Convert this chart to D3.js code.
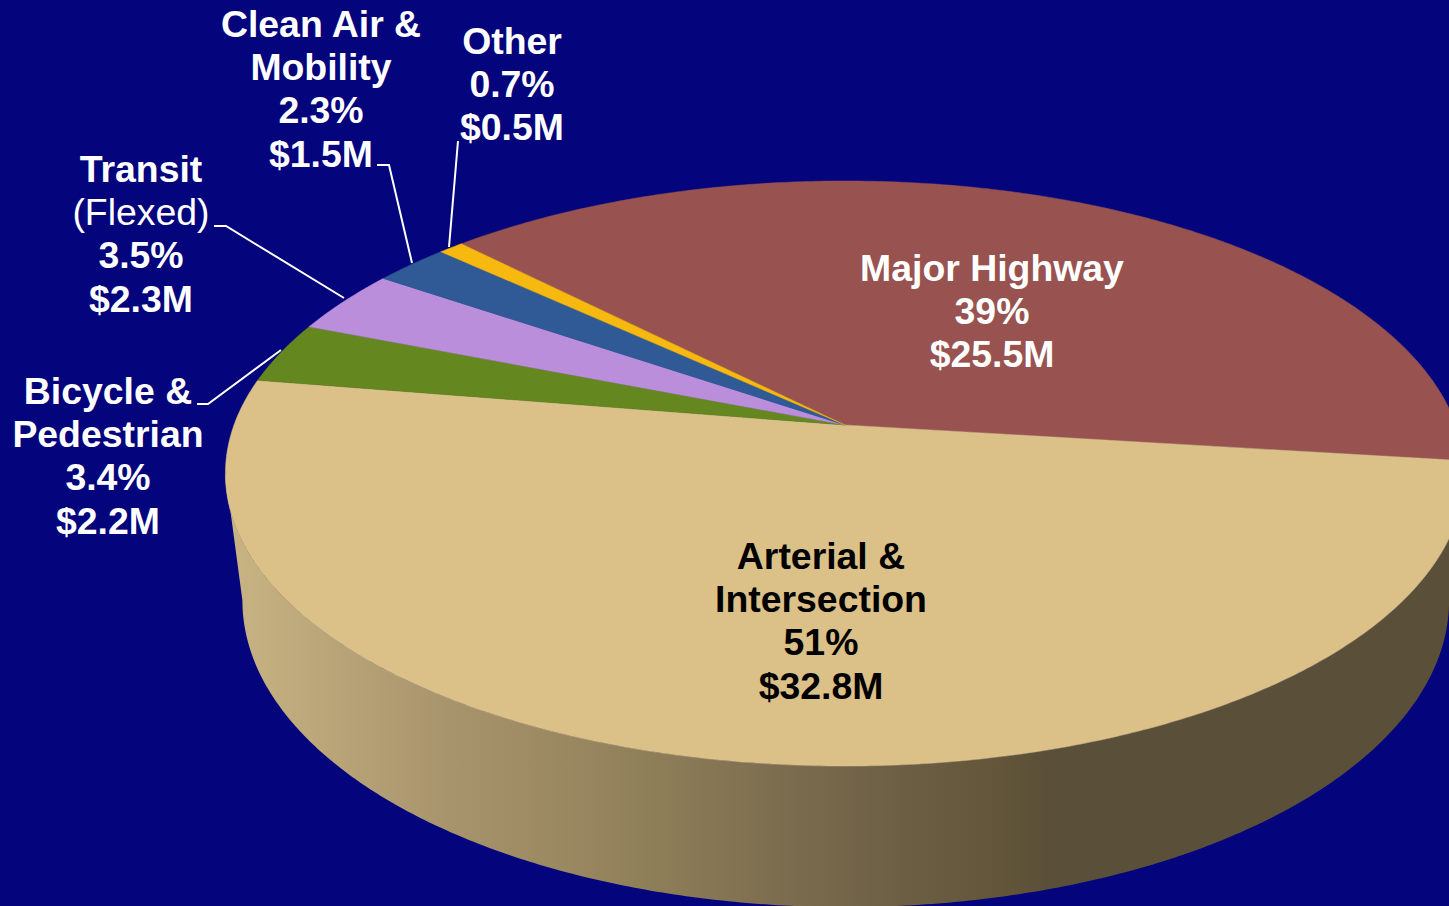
<!DOCTYPE html>
<html>
<head>
<meta charset="utf-8">
<script src="https://cdnjs.cloudflare.com/ajax/libs/d3/7.8.5/d3.min.js"></script>
<style>
html,body{margin:0;padding:0;background:#04047d;overflow:hidden}
svg{display:block}
text{font-family:"Liberation Sans",Arial,sans-serif;font-size:37.4px;font-weight:700;text-anchor:middle}
</style>
</head>
<body>
<svg id="chart" width="1449" height="906"></svg>
<script>
// ---- data ----
const categories = ["Major Highway","Arterial & Intersection","Bicycle & Pedestrian","Transit (Flexed)","Clean Air & Mobility","Other"];
const amounts    = [25.5, 32.8, 2.2, 2.3, 1.5, 0.5];
const colors     = ["#985350","#dbc088","#64871f","#bb8edb","#2f5a96","#f7b90f"];
const nameLines  = [["Major Highway"],["Arterial &","Intersection"],["Bicycle &","Pedestrian"],["Transit","(Flexed)"],["Clean Air &","Mobility"],["Other"]];
const shareText  = ["39%","51%","3.4%","3.5%","2.3%","0.7%"];
const textColors = ["#fff","#000","#fff","#fff","#fff","#fff"];

// ---- layout ----
const W = 1449, H = 906;
const apex = [845, 425], persp = 0.1658, Rx = 611, Ry = 284.5;
const startDeg = -44.6;
const labelAnchors = [[992,281],[821,569],[108,404],[141,182],[321,37],[512,54]];
const labelStep = 43.2;
const leaders = [null,null,
  [[197,404],[208,404],[281,350]],
  [[214,226],[226,226],[344,298]],
  [[377,165],[389,165],[412,263]],
  [[458,141],[449,247]]];

const svg = d3.select("#chart");
const rad = d => d*Math.PI/180;

const grad = svg.append("defs").append("linearGradient")
  .attr("id","side").attr("gradientUnits","userSpaceOnUse")
  .attr("x1",232).attr("x2",1449).attr("y1",0).attr("y2",0);
[[232,"#c8b383"],[450,"#a8946c"],[640,"#908059"],[771,"#7d6e50"],[900,"#6d5f44"],[1000,"#625539"],[1047,"#5a4f38"],[1449,"#5a4f38"]]
  .forEach(([x,c])=>grad.append("stop").attr("offset",(x-232)/(1449-232)).attr("stop-color",c));

svg.append("rect").attr("width",W).attr("height",H).attr("fill","#04047d");

const sx = d3.scaleLinear().domain([-1,1]).range([apex[0]-Rx, apex[0]+Rx]);
const sy = d3.scaleLinear().domain([-1,1]).range([apex[1]-Ry, apex[1]+Ry]);
// perspective projection of the pie's rim (angle clockwise from 12 o'clock)
const rim = a => { const u=Math.sin(a), v=-Math.cos(a), w=1-persp*v; return [sx(u/w), sy(v/w)]; };
// rim of the underside
const lowX = d3.scaleLinear().domain([225,1465]).range([242,1449.5]);
const lowY = d3.scaleLinear().domain([181,765]).range([294,906]);
const lower = a => { const p=rim(a); return [lowX(p[0]), lowY(p[1])]; };

const line = d3.line();
const sample = (a0,a1) => { const n=Math.max(2,Math.ceil(Math.abs(a1-a0)/rad(0.5))); return d3.range(n+1).map(i=>a0+(a1-a0)*i/n); };

// side wall
const t0 = Math.acos(-persp), t1 = 2*Math.PI-t0;
svg.append("path")
  .attr("d", line(sample(t0,t1).map(rim).concat(sample(t0,t1).reverse().map(lower)))+"Z")
  .attr("fill","url(#side)");

// top slices
const pie = d3.pie().value(d=>d).sort(null).startAngle(rad(startDeg)).endAngle(rad(startDeg+360));
const arcs = pie(amounts);
svg.append("g").selectAll("path").data(arcs).join("path")
  .attr("d", d=>line([apex].concat(sample(d.startAngle,d.endAngle).map(rim)))+"Z")
  .attr("fill",(d,i)=>colors[i])
  .attr("stroke",(d,i)=>colors[i]).attr("stroke-width",0.5);

// leader lines
svg.append("g").selectAll("path").data(leaders.filter(Boolean)).join("path")
  .attr("d",line).attr("fill","none").attr("stroke","#fff").attr("stroke-width",2);

// labels
const labels = categories.map((c,i)=>({
  lines:[...nameLines[i], shareText[i], "$"+amounts[i].toFixed(1)+"M"], i}));
const g = svg.append("g").selectAll("g").data(labels).join("g");
g.selectAll("text").data(d=>d.lines.map((t,k)=>({t,k,i:d.i}))).join("text")
  .attr("x",d=>labelAnchors[d.i][0])
  .attr("y",d=>labelAnchors[d.i][1]+d.k*labelStep)
  .attr("fill",d=>textColors[d.i])
  .style("font-weight",d=>d.t==="(Flexed)"?400:700)
  .text(d=>d.t);
</script>
</body>
</html>
